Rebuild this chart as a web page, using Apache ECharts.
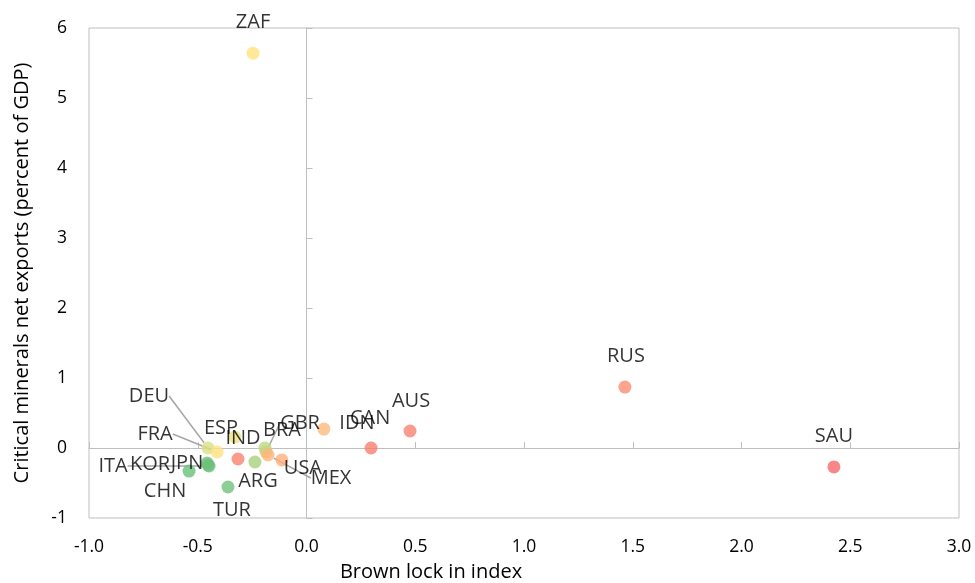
<!DOCTYPE html>
<html>
<head>
<meta charset="utf-8">
<script src="https://cdn.jsdelivr.net/npm/echarts@6/dist/echarts.min.js"></script>
<style>
  html, body { margin: 0; padding: 0; background: #fff; }
  #chart { width: 975px; height: 583px; }
</style>
</head>
<body>
<div id="chart"></div>
<script>
// ---- Data ----
const countries  = ['ZAF', 'RUS', 'SAU', 'AUS', 'CAN', 'IDN', 'GBR', 'BRA', 'MEX', 'USA', 'ARG', 'IND', 'ESP', 'DEU', 'FRA', 'KOR', 'ITA', 'JPN', 'CHN', 'TUR'];
const brownLock  = [-0.246, 1.464, 2.425, 0.476, 0.297, 0.080, -0.186, -0.191, -0.177, -0.113, -0.237, -0.315, -0.329, -0.453, -0.411, -0.457, -0.448, -0.453, -0.540, -0.361];
const netExports = [5.64, 0.871, -0.271, 0.243, 0.0, 0.271, -0.057, 0.0, -0.10, -0.171, -0.20, -0.157, 0.157, 0.0, -0.057, -0.214, -0.257, -0.243, -0.329, -0.557];
const xTicks = [-1.0, -0.5, 0.0, 0.5, 1.0, 1.5, 2.0, 2.5, 3.0];
const yTicks = [-1, 0, 1, 2, 3, 4, 5, 6];

// ---- Styles (kept separate from data) ----
const pointColors = {
  ZAF: '#FFE47E', RUS: '#FA8D72', SAU: '#F8696B', AUS: '#F98370', CAN: '#F97F6E',
  IDN: '#FDBA7A', GBR: '#FDB77A', BRA: '#BCD981', MEX: '#FDB679', USA: '#FCAF78',
  ARG: '#A7D17E', IND: '#F8836F', ESP: '#ECE383', DEU: '#D8E083', FRA: '#FFE27D',
  KOR: '#6EC27B', ITA: '#6EC27B', JPN: '#6DC17B', CHN: '#66BF7B', TUR: '#6FC27C'
};
// label centre offsets (px) from the marker
const labelOffsets = {
  ZAF: [0, -31], RUS: [1, -31], SAU: [0, -31], AUS: [1, -30], CAN: [-1, -30],
  IDN: [33, -6], GBR: [34, -29], BRA: [17, -18], MEX: [63, 23], USA: [21, 8],
  ARG: [3, 19], IND: [5, -21], ESP: [-14, -9], DEU: [-59, -52], FRA: [-62, -18],
  KOR: [-57, 1], ITA: [-96, 0], JPN: [-21, -2], CHN: [-24, 20], TUR: [4, 23]
};
const leaderLabels = ['DEU', 'FRA', 'ITA', 'GBR', 'MEX'];

const FONT = '"Open Sans", "Noto Sans", sans-serif';
const GRAY = '#bfbfbf';
const TXT = '#000000';

const seriesData = countries.map((c, i) => ({
  name: c,
  value: [brownLock[i], netExports[i]],
  itemStyle: { color: pointColors[c] },
  labelLine: { show: leaderLabels.includes(c) }
}));

const chart = echarts.init(document.getElementById('chart'), null, { renderer: 'canvas' });

const option = {
  backgroundColor: '#ffffff',
  animation: false,
  grid: {
    left: 89, right: 16, top: 28, bottom: 65,
    containLabel: false, outerBoundsMode: 'none',
    show: true, borderColor: GRAY, borderWidth: 1
  },
  xAxis: [
    {
      type: 'value', min: xTicks[0], max: xTicks[xTicks.length - 1], interval: 0.5,
      position: 'bottom',
      name: 'Brown lock in index', nameLocation: 'middle', nameGap: 44,
      nameTextStyle: { fontFamily: FONT, fontSize: 20, color: TXT, padding: [0, 186, 0, 0] },
      axisLine: { show: false, onZero: false },
      axisTick: { show: false },
      splitLine: { show: false },
      axisLabel: { fontFamily: FONT, fontSize: 17.5, color: TXT, margin: 20,
                   formatter: v => v.toFixed(1) }
    },
    {
      type: 'value', min: xTicks[0], max: xTicks[xTicks.length - 1], interval: 0.5,
      position: 'bottom',
      axisLine: { show: true, onZero: true, onZeroAxisIndex: 0, lineStyle: { color: GRAY, width: 1 } },
      axisTick: { show: true, inside: true, length: 6, lineStyle: { color: GRAY } },
      axisLabel: { show: false },
      splitLine: { show: false }
    }
  ],
  yAxis: [
    {
      type: 'value', min: yTicks[0], max: yTicks[yTicks.length - 1], interval: 1,
      position: 'left',
      name: 'Critical minerals net exports (percent of GDP)', nameLocation: 'middle', nameGap: 57,
      nameTextStyle: { fontFamily: FONT, fontSize: 20, color: TXT },
      axisLine: { show: false, onZero: false },
      axisTick: { show: false },
      splitLine: { show: false },
      axisLabel: { fontFamily: FONT, fontSize: 17.5, color: TXT, margin: 22 }
    },
    {
      type: 'value', min: yTicks[0], max: yTicks[yTicks.length - 1], interval: 1,
      position: 'left',
      axisLine: { show: true, onZero: true, onZeroAxisIndex: 0, lineStyle: { color: GRAY, width: 1 } },
      axisTick: { show: true, inside: true, length: 6, lineStyle: { color: GRAY } },
      axisLabel: { show: false },
      splitLine: { show: false }
    }
  ],
  series: [{
    type: 'scatter',
    xAxisIndex: 0, yAxisIndex: 0,
    symbolSize: 13,
    data: seriesData,
    label: {
      show: true,
      position: 'inside',
      formatter: p => p.name,
      fontFamily: FONT, fontSize: 20, color: TXT,
      textBorderWidth: 0, textBorderColor: 'transparent'
    },
    labelLine: { show: false, lineStyle: { color: '#a6a6a6', width: 1.5 } },
    labelLayout: function (params) {
      const name = countries[params.dataIndex];
      const off = labelOffsets[name] || [0, 0];
      return { dx: off[0], dy: off[1], hideOverlap: false };
    },
    emphasis: { disabled: true }
  }]
};

chart.setOption(option);
</script>
</body>
</html>
